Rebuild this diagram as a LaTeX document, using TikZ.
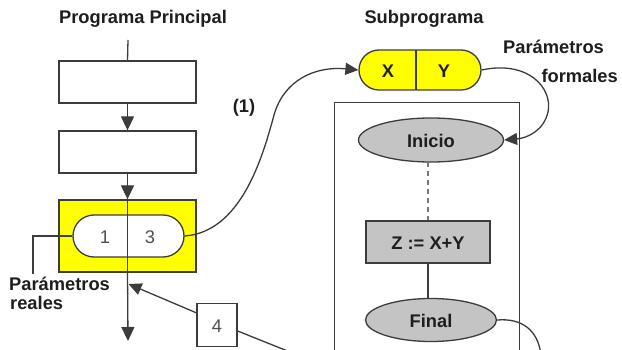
\documentclass[tikz,border=0pt]{standalone}
\usepackage{fontspec}
\setmainfont{Liberation Sans}
\usetikzlibrary{arrows.meta,shapes.geometric}
\definecolor{ln}{HTML}{3C3C3C}
\definecolor{gr}{HTML}{C4C4C4}
\definecolor{yl}{HTML}{FFFF00}
\definecolor{tx}{HTML}{1E1E1E}
\tikzset{
  lbl/.style={font=\fontsize{18.3}{20}\selectfont\bfseries, text=tx, inner sep=0pt},
  num/.style={font=\fontsize{18.3}{20}\selectfont, text=ln!90, inner sep=0pt},
  box/.style={draw=ln, line width=1.3pt, rectangle, inner sep=0pt},
  ov/.style={draw=ln, line width=1.3pt, ellipse, fill=gr, inner sep=0pt},
  conn/.style={draw=ln, line width=1.3pt},
  tip/.style={-{Triangle[width=13pt,length=14pt]}},
  ctip/.style={-{Triangle[width=12pt,length=13pt]}}
}
\begin{document}
\begin{tikzpicture}[x=1pt,y=-1pt]
\useasboundingbox (0,0) rectangle (622,350);
\clip (0,0) rectangle (622,350);
\fill[white] (0,0) rectangle (622,350);
% titles
\node[lbl] (t1) at (143,19) {Programa Principal};
\node[lbl] (t2) at (424,19) {Subprograma};
% left flow
\coordinate (top) at (128,40);
\node[box, minimum width=137pt, minimum height=42pt] (b1) at (127.5,82) {};
\node[box, minimum width=137pt, minimum height=42pt] (b2) at (127.5,152) {};
\node[box, fill=yl, minimum width=137pt, minimum height=72pt] (yb) at (127.5,236) {};
\node[box, fill=white, rounded corners=21pt, minimum width=111pt, minimum height=42pt] (p) at (128.5,236) {};
\node[num] (n1) at (105,237) {1};
\node[num] (n3) at (150,237) {3};
\coordinate (bot) at (128,341);
\coordinate (hit) at (128.5,284);
\draw[conn] (top) -- (b1.north);
\draw[conn, tip] (b1.south) -- (b2.north);
\draw[conn, tip] (b2.south) -- (yb.north);
\draw[conn] (yb.north) -- (yb.south);
\draw[conn, tip] (yb.south) -- (bot);
% parametros reales
\coordinate (rc) at (33,236);
\coordinate (rd) at (33,274);
\draw[conn] (p.west) -- (rc) -- (rd);
\node[lbl, align=left, anchor=north west] (real) at (9,277) {Parámetros\\[-1pt]\hspace*{1pt}reales};
% box 4
\node[box, minimum width=40pt, minimum height=43pt] (b4) at (217,325) {};
\node[num] (n4) at (217,326) {4};
\coordinate (away) at (300,356);
\draw[conn, ctip] ([yshift=-10pt]b4.north west) -- (hit);
\draw[conn] ([yshift=-6pt]b4.east) -- (away);
% call arrow (1)
\node[lbl] (one) at (244,108) {(1)};
\node[box, fill=yl, rounded corners=20pt, minimum width=122pt, minimum height=40pt] (xy) at (420,70) {};
\draw[conn] (416,50) -- (416,90);
\node[lbl] (xx) at (388,71) {X};
\node[lbl] (yy) at (444,71) {Y};
\draw[conn, ctip] (p.east) .. controls (240,232) and (262,160) .. (274,115) .. controls (284,80) and (315,66) .. (xy.west);
% parametros formales
\node[lbl, anchor=west] (pf1) at (503,47) {Parámetros};
\node[lbl, anchor=east] (pf2) at (618,76) {formales};
% subprogram body
\node[box, minimum width=185pt, minimum height=270pt, anchor=north west] (frame) at (334,102) {};
\node[ov, minimum width=145pt, minimum height=44pt] (ini) at (431,140) {};
\node[lbl] (inil) at (431,141) {Inicio};
\node[box, fill=gr, minimum width=124pt, minimum height=42pt] (z) at (428,242) {};
\node[lbl] (zl) at (428,243) {Z := X+Y};
\node[ov, minimum width=131pt, minimum height=43pt] (fin) at (431,320) {};
\node[lbl] (finl) at (431,321) {Final};
\draw[conn, ln!70, dash pattern=on 5pt off 4pt] (428,162) -- (z.north);
\draw[conn] (z.south) -- (428,298.5);
\draw[conn, ctip] (xy.east) .. controls (528,60) and (553,88) .. (548,112) .. controls (544,130) and (528,138) .. (ini.east);
\coordinate (fout) at (541,355);
\draw[conn] (fin.east) .. controls (522,318) and (538,330) .. (fout);
\end{tikzpicture}
\end{document}
